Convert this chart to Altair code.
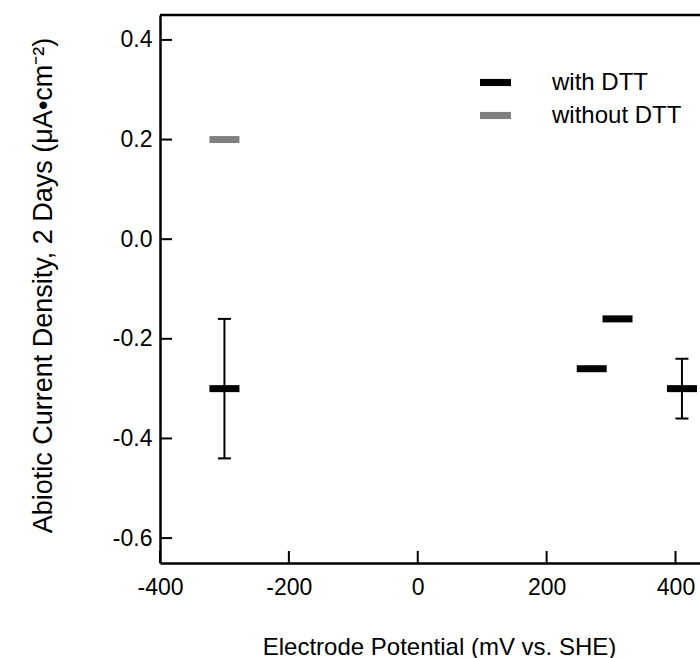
import altair as alt
import pandas as pd

# ---- data ----
series = ["with DTT", "with DTT", "with DTT", "with DTT", "without DTT"]
potential = [-300, 270, 310, 410, -300]
current = [-0.30, -0.26, -0.16, -0.30, 0.20]

err_x = [-300, 410]
err_low = [-0.44, -0.36]
err_high = [-0.16, -0.24]

x_ticks = [-400, -200, 0, 200, 400]
y_ticks = [-0.6, -0.4, -0.2, 0.0, 0.2, 0.4]

x_domain = [-400, 438]
y_domain = [-0.65, 0.45]

FONT = "Liberation Sans"
W, H = 540, 548

pts = pd.DataFrame({"series": series, "potential": potential, "current": current})
errs = pd.DataFrame({"potential": err_x, "low": err_low, "high": err_high})
xt = pd.DataFrame({"v": x_ticks})
yt = pd.DataFrame({"v": y_ticks})

xscale = alt.Scale(domain=x_domain, nice=False, zero=False)
yscale = alt.Scale(domain=y_domain, nice=False, zero=False)

x_axis = alt.Axis(
    values=x_ticks, ticks=False, tickSize=0, grid=False,
    labelExpr="datum.value < 0 ? '-' + format(-datum.value, 'd') : format(datum.value, 'd')",
    labelFont=FONT, labelFontSize=23, labelColor="black", labelPadding=13,
    labelFlush=False, labelOverlap=False,
    domainColor="black", domainWidth=2.5,
    title="Electrode Potential (mV vs. SHE)", titleFont=FONT, titleFontSize=24,
    titleFontWeight="normal", titleColor="black", titleX=279, titleY=91,
    titleBaseline="alphabetic", titleAlign="center",
)
y_axis = alt.Axis(
    values=y_ticks, ticks=False, tickSize=0, grid=False,
    labelExpr="datum.value < 0 ? '-' + format(-datum.value, '.1f') : format(datum.value, '.1f')",
    labelFont=FONT, labelFontSize=23, labelColor="black", labelPadding=8,
    labelFlush=False, labelOverlap=False,
    domainColor="black", domainWidth=2.5,
    title="Abiotic Current Density, 2 Days (μA•cm⁻²)", titleFont=FONT,
    titleFontSize=27, titleFontWeight="normal", titleColor="black",
    titleAngle=270, titleX=-109, titleY=270, titleBaseline="alphabetic",
    titleAlign="center",
)

markers = alt.Chart(pts).mark_tick(orient="horizontal", size=30, thickness=7, opacity=1).encode(
    x=alt.X("potential:Q", scale=xscale, axis=x_axis),
    y=alt.Y("current:Q", scale=yscale, axis=y_axis),
    color=alt.Color(
        "series:N",
        scale=alt.Scale(domain=["with DTT", "without DTT"], range=["#000000", "#808080"]),
        legend=alt.Legend(
            title=None, orient="none", legendX=320, legendY=52,
            symbolType="M-1,-0.23H1V0.23H-1Z", symbolSize=961, symbolStrokeWidth=0,
            symbolOpacity=1, labelFont=FONT, labelFontSize=24, labelColor="black",
            labelOffset=41, rowPadding=5, padding=0,
        ),
    ),
)

err_rules = alt.Chart(errs).mark_rule(color="black", strokeWidth=2).encode(
    x=alt.X("potential:Q", scale=xscale),
    y=alt.Y("low:Q", scale=yscale),
    y2="high:Q",
)
cap_low = alt.Chart(errs).mark_tick(orient="horizontal", size=13, thickness=2, color="black", opacity=1).encode(
    x=alt.X("potential:Q", scale=xscale),
    y=alt.Y("low:Q", scale=yscale),
)
cap_high = alt.Chart(errs).mark_tick(orient="horizontal", size=13, thickness=2, color="black", opacity=1).encode(
    x=alt.X("potential:Q", scale=xscale),
    y=alt.Y("high:Q", scale=yscale),
)

x_tick_marks = alt.Chart(xt).mark_rule(color="black", strokeWidth=2).encode(
    x=alt.X("v:Q", scale=xscale),
    y=alt.value(H),
    y2=alt.value(H - 12),
)
y_tick_marks = alt.Chart(yt).mark_rule(color="black", strokeWidth=2).encode(
    y=alt.Y("v:Q", scale=yscale),
    x=alt.value(0),
    x2=alt.value(12),
)
top_line = alt.Chart(pd.DataFrame({"a": [0]})).mark_rule(color="black", strokeWidth=2.5).encode(
    x=alt.value(0), x2=alt.value(W), y=alt.value(0),
)

chart = alt.layer(
    x_tick_marks, y_tick_marks, top_line, err_rules, cap_low, cap_high, markers
).properties(
    width=W, height=H,
    padding={"left": 160, "top": 15, "right": 0, "bottom": 95},
    autosize="none",
).configure_view(stroke=None).configure(background="white")

chart.save("out.html", embed_options={"renderer": "svg", "actions": False})
